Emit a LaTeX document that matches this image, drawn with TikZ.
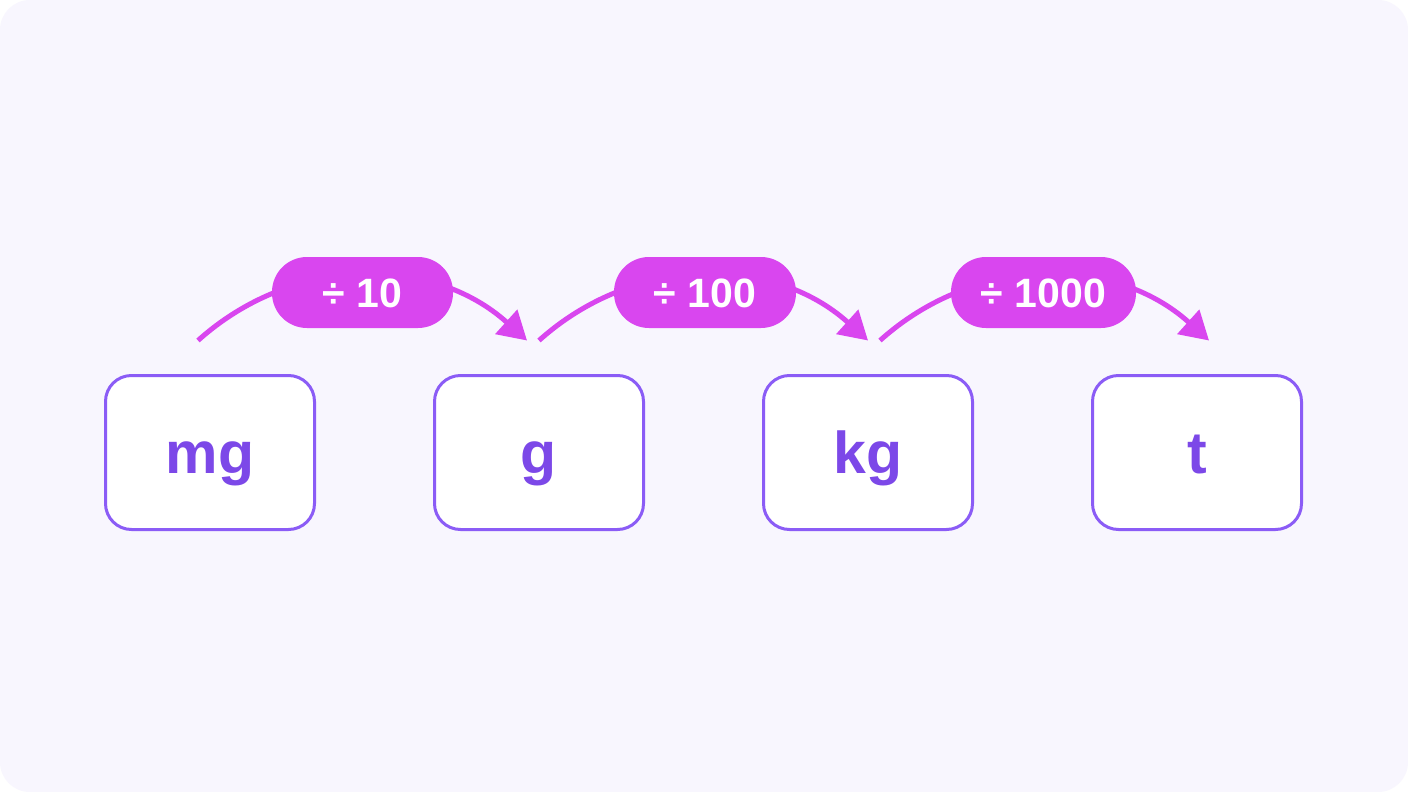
\documentclass[tikz,border=0pt]{standalone}
\usepackage{fontspec}
\setmainfont{Liberation Sans}
\usetikzlibrary{arrows.meta,calc}
\definecolor{bgc}{RGB}{248,246,254}
\definecolor{boxline}{RGB}{139,92,246}
\definecolor{boxtext}{RGB}{124,72,232}
\definecolor{pillc}{RGB}{217,70,239}
\tikzset{
  unitbox/.style={draw=boxline, line width=3pt, fill=white, rounded corners=26pt,
    minimum width=209pt, minimum height=154pt, inner sep=0pt,
    text=boxtext, font=\fontsize{59}{62}\selectfont\bfseries,
    text height=42pt, text depth=1pt},
  pill/.style={fill=pillc, rounded corners=35pt, minimum height=71pt, inner sep=0pt,
    text=white, font=\fontsize{41}{44}\selectfont\bfseries,
    text height=29pt, text depth=0pt},
  conv/.style={draw=pillc, line width=5pt, bend left=42,
    -{Triangle[length=28pt,width=32pt]}}
}
\begin{document}
\begin{tikzpicture}[x=1pt,y=-1pt]
\useasboundingbox (0,0) rectangle (1408,792);
\fill[white] (0,0) rectangle (1408,792);
\fill[bgc, rounded corners=30pt] (0,0) rectangle (1408,792);

\node[unitbox] (mg) at (210,452.5) {mg};
\node[unitbox] (g)  at (539,452.5) {g};
\node[unitbox] (kg) at (868,452.5) {kg};
\node[unitbox] (t)  at (1197,452.5) {t};

\coordinate (s1) at ($(mg.center)+(-12,-112)$);
\coordinate (e1) at ($(g.center)+(-12,-112)$);
\coordinate (s2) at ($(g.center)+(0,-112)$);
\coordinate (e2) at ($(kg.center)+(0,-112)$);
\coordinate (s3) at ($(kg.center)+(12,-112)$);
\coordinate (e3) at ($(t.center)+(12,-112)$);

\draw[conv] (s1) to (e1);
\draw[conv] (s2) to (e2);
\draw[conv] (s3) to (e3);

\node[pill, minimum width=181pt] (p1) at (362.5,292.5) {÷ 10};
\node[pill, minimum width=182pt] (p2) at (705,292.5) {÷ 100};
\node[pill, minimum width=185pt] (p3) at (1043.5,292.5) {÷ 1000};
\end{tikzpicture}
\end{document}
